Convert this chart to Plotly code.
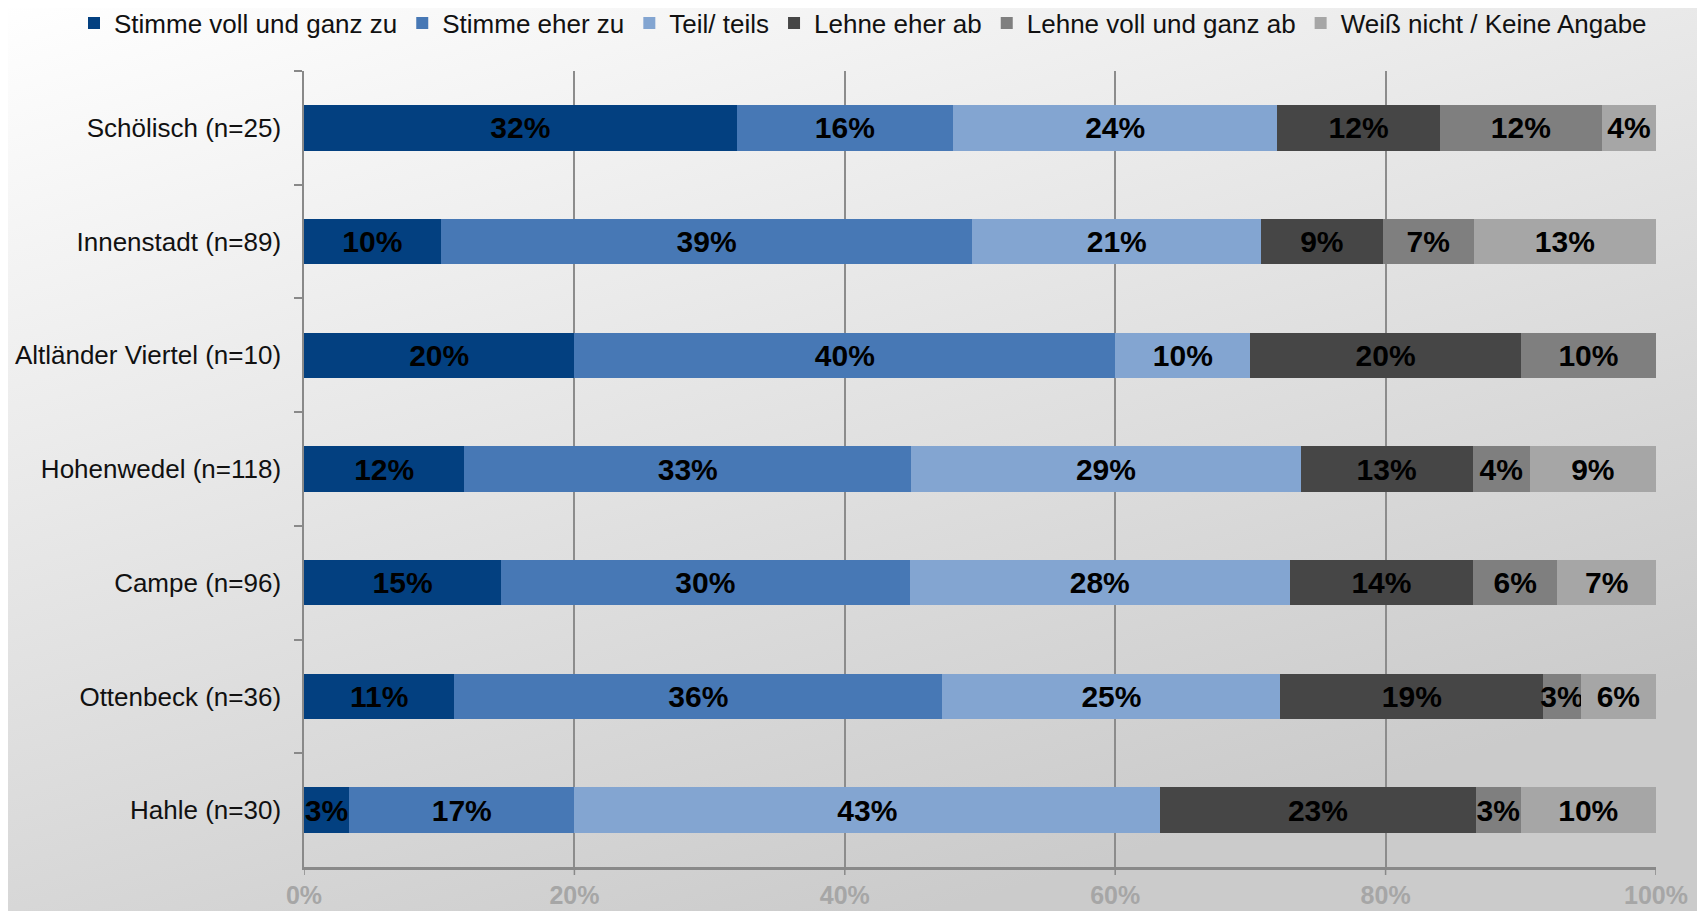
import base64
import plotly.graph_objs as go

# categories (top to bottom)
stadtteile = ['Schölisch (n=25)', 'Innenstadt (n=89)', 'Altländer Viertel (n=10)',
              'Hohenwedel (n=118)', 'Campe (n=96)', 'Ottenbeck (n=36)', 'Hahle (n=30)']

# answer shares in percent, one list per answer
voll_zu = [32, 10.11, 20, 11.86, 14.58, 11.11, 3.33]
eher_zu = [16, 39.33, 40, 33.05, 30.21, 36.11, 16.67]
teils = [24, 21.35, 10, 28.81, 28.13, 25.0, 43.33]
eher_ab = [12, 8.99, 20, 12.71, 13.54, 19.44, 23.33]
voll_ab = [12, 6.74, 10, 4.24, 6.25, 2.78, 3.33]
weiss_nicht = [4, 13.48, None, 9.32, 7.28, 5.55, 10.0]

x_ticks = [0, 20, 40, 60, 80, 100]
x_labels = ['0%', '20%', '40%', '60%', '80%', '100%']

series = [('Stimme voll und ganz zu', voll_zu, '#034080'),
          ('Stimme eher zu', eher_zu, '#4778B5'),
          ('Teil/ teils', teils, '#83A5D1'),
          ('Lehne eher ab', eher_ab, '#464646'),
          ('Lehne voll und ganz ab', voll_ab, '#7F7F7F'),
          ('Weiß nicht / Keine Angabe', weiss_nicht, '#A6A6A6')]

font = 'Liberation Sans, Arial, sans-serif'
axis_grey = '#898989'

data = []
for name, vals, col in series:
    data.append(go.Bar(y=stadtteile, x=vals, name=name, orientation='h',
                       marker=dict(color=col, line=dict(width=0)),
                       texttemplate='%{x:.0f}%', textposition='inside',
                       insidetextanchor='middle', textangle=0,
                       constraintext='none', cliponaxis=False,
                       textfont=dict(family=font, size=30, color='black', weight='bold'),
                       hoverinfo='x+y'))

# gradient background (white top-left to grey bottom-right)
svg = ('<svg xmlns="http://www.w3.org/2000/svg" width="1705" height="911" preserveAspectRatio="none">'
       '<defs><linearGradient id="g" x1="0" y1="0" x2="0.55" y2="1">'
       '<stop offset="0" stop-color="#ffffff"/><stop offset="1" stop-color="#cbcbcb"/>'
       '</linearGradient></defs><rect width="1705" height="911" fill="url(#g)"/></svg>')
bg = 'data:image/svg+xml;base64,' + base64.b64encode(svg.encode()).decode()

# page body has an 8px margin, so the figure is 8px smaller than the window
W, H = 1697, 903
L, R, T, B = 296, 49, 63, 44
pw, ph = W - L - R, H - T - B

# short tick stubs under the x axis line
stubs = [dict(type='line', xref='x', yref='paper', x0=v, x1=v, y0=0, y1=-8 / ph,
              line=dict(color=axis_grey, width=1.5)) for v in x_ticks]

layout = go.Layout(
    width=W, height=H, barmode='stack', bargap=0.6,
    margin=dict(l=L, r=R, t=T, b=B, autoexpand=False),
    paper_bgcolor='white', plot_bgcolor='rgba(0,0,0,0)',
    font=dict(family=font, size=26, color='#111111'),
    uniformtext=dict(minsize=30, mode='show'),
    legend=dict(orientation='h', x=(66 - L) / pw, xanchor='left',
                y=1 + (T - 15) / ph, yanchor='middle',
                font=dict(size=26, color='#111111'), traceorder='normal',
                itemwidth=30, tracegroupgap=0, bgcolor='rgba(0,0,0,0)'),
    xaxis=dict(range=[0, 100], tickmode='array', tickvals=x_ticks, ticktext=x_labels,
               showgrid=True, gridcolor='#8c8c8c', gridwidth=1.5,
               showline=True, linecolor=axis_grey, linewidth=2.5,
               ticks='', ticklabelstandoff=4,
               tickfont=dict(size=25, color='#a6a6a6', weight='bold'),
               zeroline=False, automargin=False, fixedrange=True),
    yaxis=dict(autorange='reversed', showline=True, linecolor=axis_grey, linewidth=1.5,
               ticks='outside', ticklen=8, tickcolor=axis_grey, tickwidth=1.5,
               tickson='boundaries', showgrid=False, ticklabelstandoff=16,
               tickfont=dict(size=26, color='#111111'), automargin=False, fixedrange=True),
    shapes=stubs,
    images=[dict(source=bg, xref='paper', yref='paper', x=-(L + 8) / pw, y=1 + (T + 8) / ph,
                 sizex=(W + 8) / pw, sizey=(H + 8) / ph, sizing='stretch', layer='below',
                 xanchor='left', yanchor='top')]
)

fig = go.Figure(data=data, layout=layout)
fig.write_html('out.html')
